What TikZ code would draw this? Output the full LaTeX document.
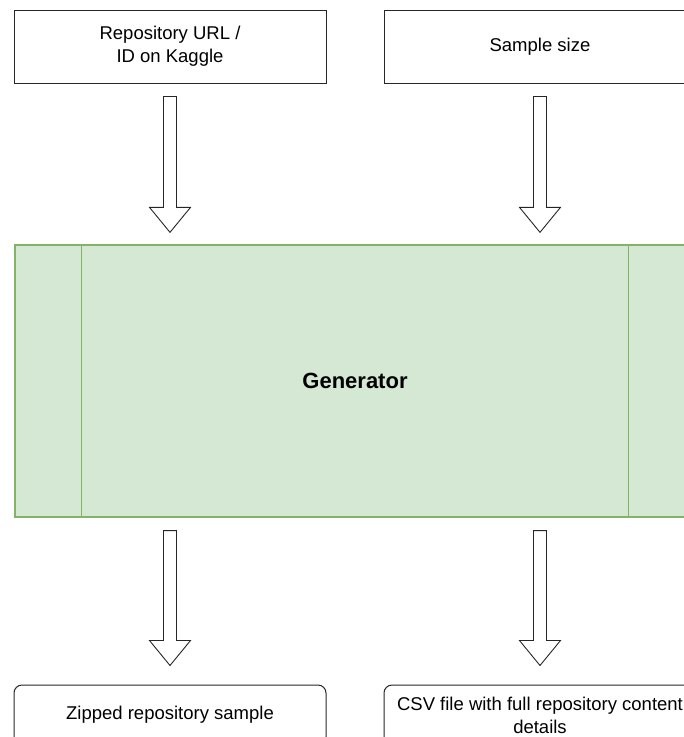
\documentclass[tikz,border=0pt]{standalone}
\usepackage{fontspec}
\setmainfont{Liberation Sans}
\usetikzlibrary{calc}

\definecolor{genfill}{HTML}{D5E8D4}
\definecolor{genline}{HTML}{82B366}

\tikzset{
  inbox/.style={draw=black!85, line width=1pt, minimum width=312pt, minimum height=73pt,
    align=center, font=\fontsize{18.5}{23}\selectfont},
  outbox/.style={inbox, rounded corners=8pt, minimum height=60pt},
  genbox/.style={draw=genline, fill=genfill, line width=1.3pt, minimum width=680pt,
    minimum height=272pt, font=\bfseries\fontsize{22}{26}\selectfont},
  hollow/.style={draw=black!85, fill=white, line width=0.9pt,
    to path={let \p1=(\tikztostart), \p2=(\tikztotarget) in
      (\x1-6.5pt,\y1) -- (\x1-6.5pt,\y2+25pt) -- (\x1-20.5pt,\y2+25pt) -- (\x1,\y2)
      -- (\x1+20.5pt,\y2+25pt) -- (\x1+6.5pt,\y2+25pt) -- (\x1+6.5pt,\y1) -- cycle}}
}

\begin{document}
\begin{tikzpicture}[x=1pt,y=-1pt]
\useasboundingbox (0,0) rectangle (684,737);
\clip (0,0) rectangle (684,737);

% inputs
\node[inbox] (repo) at (170,46.5) {Repository URL /\\ID on Kaggle};
\node[inbox] (size) at (540,46.5) {Sample size};

% generator
\node[genbox] (gen) at (355,381) {Generator};
\draw[genline, line width=1.3pt] ([xshift=67pt]gen.north west) -- ([xshift=67pt]gen.south west);
\draw[genline, line width=1.3pt] ([xshift=-67pt]gen.north east) -- ([xshift=-67pt]gen.south east);

% outputs
\node[outbox] (zip) at (170,715) {Zipped repository sample};
\node[outbox] (csv) at (540,715) {CSV file with full repository content\\details};

% block arrows
\draw[hollow] ([yshift=-13pt]repo.south) to ([yshift=12pt]repo.south |- gen.north);
\draw[hollow] ([yshift=-13pt]size.south) to ([yshift=12pt]size.south |- gen.north);
\draw[hollow] ([yshift=-13pt]gen.south -| zip.north) to ([yshift=19pt]zip.north);
\draw[hollow] ([yshift=-13pt]gen.south -| csv.north) to ([yshift=19pt]csv.north);

\end{tikzpicture}
\end{document}
